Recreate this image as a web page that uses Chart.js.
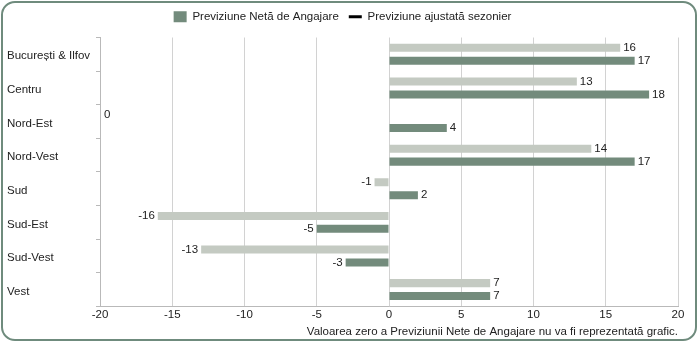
<!DOCTYPE html>
<html>
<head>
<meta charset="utf-8">
<script src="https://cdn.jsdelivr.net/npm/chart.js@4.4.1/dist/chart.umd.min.js"></script>
<style>
  html, body { margin: 0; padding: 0; background: #fff; }
  .frame {
    position: relative;
    width: 696px; height: 340px;
    margin: 1px;
    border: 2px solid #6f8b7d;
    border-radius: 14px;
    box-sizing: border-box;
    overflow: hidden;
  }
  .frame canvas { position: absolute; left: -3px; top: -3px; }
</style>
</head>
<body>
<div class="frame"><canvas id="chart" width="700" height="344"></canvas></div>
<script>
        const regions = ['București & Ilfov', 'Centru', 'Nord-Est', 'Nord-Vest', 'Sud', 'Sud-Est', 'Sud-Vest', 'Vest'];
        const adjustedValues = [16, 13, 0, 14, -1, -16, -13, 7];
        const netValues = [17, 18, 4, 17, 2, -5, -3, 7];
        const xTicks = [-20, -15, -10, -5, 0, 5, 10, 15, 20];
        const footnote = 'Valoarea zero a Previziunii Nete de Angajare nu va fi reprezentată grafic.';

        const fontFamily = "'Liberation Sans', Arial, sans-serif";
        const fontSize = 11.5;
        const font = { family: fontFamily, size: fontSize, weight: 'normal' };
        const textColor = '#222';
        const darkGreen = '#738b7c';
        const lightGrey = '#c4cac2';

        // value labels next to each bar; zero values go to the left edge
        const barLabels = {
            id: 'barLabels',
            afterDatasetsDraw(chart) {
                const ctx = chart.ctx;
                const area = chart.chartArea;
                ctx.save();
                ctx.font = fontSize + 'px ' + fontFamily;
                ctx.fillStyle = textColor;
                ctx.textBaseline = 'middle';
                chart.data.datasets.forEach((ds, i) => {
                    chart.getDatasetMeta(i).data.forEach((bar, j) => {
                        const v = ds.data[j];
                        if (v === 0) {
                            ctx.textAlign = 'left';
                            ctx.fillText('0', area.left + 4, bar.y);
                        } else if (v > 0) {
                            ctx.textAlign = 'left';
                            ctx.fillText(String(v), bar.x + 3, bar.y);
                        } else {
                            ctx.textAlign = 'right';
                            ctx.fillText(String(v), bar.x - 3, bar.y);
                        }
                    });
                });
                ctx.restore();
            }
        };

        // a little more room between the legend and the bars
        const legendGap = {
            id: 'legendGap',
            beforeInit(chart) {
                const fit = chart.legend.fit;
                chart.legend.fit = function () {
                    fit.call(this);
                    this.height += 5;
                };
            }
        };

        new Chart(document.getElementById('chart'), {
            type: 'bar',
            data: {
                labels: regions,
                datasets: [
                    {
                        label: 'Previziune ajustată sezonier',
                        data: adjustedValues,
                        backgroundColor: lightGrey,
                        borderWidth: 0,
                        categoryPercentage: 0.77,
                        barPercentage: 0.62
                    },
                    {
                        label: 'Previziune Netă de Angajare',
                        data: netValues,
                        backgroundColor: darkGreen,
                        borderWidth: 0,
                        categoryPercentage: 0.77,
                        barPercentage: 0.62
                    }
                ]
            },
            options: {
                indexAxis: 'y',
                responsive: false,
                animation: false,
                layout: { padding: { left: 7, right: 22, top: 1, bottom: 2 } },
                scales: {
                    x: {
                        min: -20,
                        max: 20,
                        afterBuildTicks: scale => { scale.ticks = xTicks.map(v => ({ value: v })); },
                        grid: { color: '#d2d2d2', lineWidth: 1, tickLength: 0 },
                        border: { color: '#b9b9b9' },
                        ticks: { color: textColor, padding: 2, font: font }
                    },
                    y: {
                        afterFit: scale => { scale.width = 93; },
                        grid: { drawOnChartArea: false, offset: true, tickLength: 4, color: '#b9b9b9' },
                        border: { color: '#b9b9b9' },
                        ticks: {
                            crossAlign: 'far',
                            labelOffset: 2,
                            color: textColor,
                            font: font
                        }
                    }
                },
                plugins: {
                    legend: {
                        position: 'top',
                        reverse: true,
                        labels: {
                            color: textColor,
                            font: font,
                            usePointStyle: true,
                            pointStyleWidth: 13,
                            boxHeight: 11,
                            padding: 10,
                            generateLabels: chart => [
                                {
                                    text: chart.data.datasets[0].label,
                                    fillStyle: '#000',
                                    strokeStyle: '#000',
                                    lineWidth: 3,
                                    pointStyle: 'line',
                                    datasetIndex: 0,
                                    fontColor: textColor
                                },
                                {
                                    text: chart.data.datasets[1].label,
                                    fillStyle: darkGreen,
                                    strokeStyle: darkGreen,
                                    lineWidth: 0,
                                    pointStyle: 'rect',
                                    datasetIndex: 1,
                                    fontColor: textColor
                                }
                            ]
                        }
                    },
                    title: {
                        display: true,
                        position: 'bottom',
                        align: 'end',
                        text: footnote,
                        color: textColor,
                        font: font,
                        padding: { top: 1, bottom: 3 }
                    },
                    tooltip: { enabled: false }
                }
            },
            plugins: [barLabels, legendGap]
        });
</script>
</body>
</html>
